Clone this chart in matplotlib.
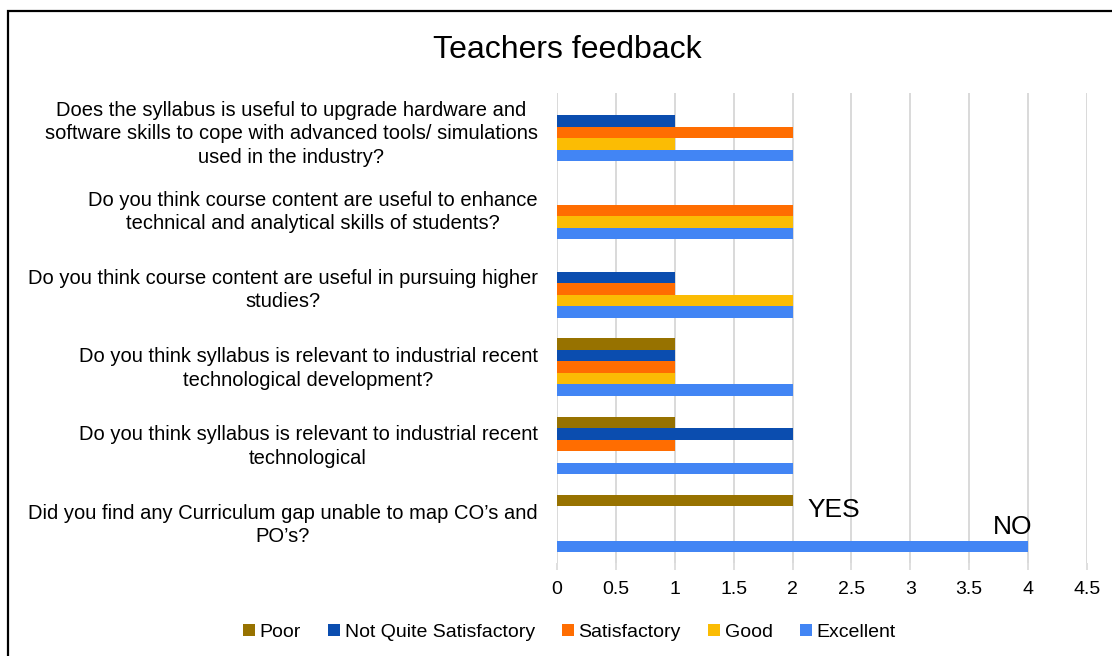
import numpy as np
import matplotlib
matplotlib.use("Agg")
import matplotlib.pyplot as plt
from matplotlib.patches import Rectangle
from matplotlib.transforms import ScaledTranslation

plt.rcParams['font.family'] = ['Liberation Sans', 'DejaVu Sans']

# categories, top to bottom
questions = [
    "Does the syllabus is useful to upgrade hardware and\nsoftware skills to cope with advanced tools/ simulations\nused in the industry?",
    "Do you think course content are useful to enhance\ntechnical and analytical skills of students?",
    "Do you think course content are useful in pursuing higher\nstudies?",
    "Do you think syllabus is relevant to industrial recent\ntechnological development?",
    "Do you think syllabus is relevant to industrial recent\ntechnological",
    "Did you find any Curriculum gap unable to map CO\u2019s and\nPO\u2019s?",
]
seriesNames = ["Poor", "Not Quite Satisfactory", "Satisfactory", "Good", "Excellent"]
poor = [0, 0, 0, 1, 1, 2]
notQuite = [1, 0, 1, 1, 2, 0]
satisfactory = [2, 2, 1, 1, 1, 0]
good = [1, 2, 2, 1, 0, 0]
excellent = [2, 2, 2, 2, 2, 4]
colors = ["#977200", "#0B4DAF", "#FF6D01", "#FBBC04", "#4285F4"]
xTicks = [0, 0.5, 1, 1.5, 2, 2.5, 3, 3.5, 4, 4.5]

fig = plt.figure(figsize=(11.12, 6.56), dpi=100)
ax = fig.add_axes([0.501, 0.142, 0.4765, 0.716])

n = len(questions)
pos = np.arange(n)[::-1]
h = 0.147
allSeries = [poor, notQuite, satisfactory, good, excellent]
for i, (name, vals, col) in enumerate(zip(seriesNames, allSeries, colors)):
    offset = (2 - i) * h
    ax.barh(pos + offset, vals, height=h, color=col, label=name, zorder=3)

ax.set_xlim(0, 4.5)
ax.set_ylim(-0.5, 5.5)
ax.set_xticks(xTicks)
ax.set_xticklabels([f"{t:g}" for t in xTicks], fontsize=14)
ax.set_yticks(pos)
ax.set_yticklabels(questions, fontsize=14.5, multialignment='center', linespacing=1.3)
ax.tick_params(axis='y', length=0, pad=14)
ax.tick_params(axis='x', length=5, color='#D9D9D9', width=1.2, pad=8)
ax.grid(axis='x', color='#D9D9D9', linewidth=1.4, zorder=0)
for s in ax.spines.values():
    s.set_visible(False)

# labels sit a little above the group centre in the original
shift = ScaledTranslation(0, 3 / 100, fig.dpi_scale_trans)
for lbl in ax.get_yticklabels():
    lbl.set_transform(lbl.get_transform() + shift)

ax.text(2.13, 0.17, "YES", fontsize=19, ha='left', va='center')
ax.text(4.04, -0.04, "NO", fontsize=19, ha='right', va='center')

fig.suptitle("Teachers feedback", fontsize=23, x=0.51, y=0.947)

fig.legend(loc='center', bbox_to_anchor=(0.512, 0.036), ncol=5, frameon=False,
           fontsize=14, handlelength=0.6, handleheight=0.6, handletextpad=0.25,
           columnspacing=1.4)

fig.patches.append(Rectangle((0.0075, -0.05), 1.1, 0.9825 + 0.05, transform=fig.transFigure,
                             fill=False, edgecolor='black', linewidth=1.6))

fig.savefig("out.png", dpi=100)
